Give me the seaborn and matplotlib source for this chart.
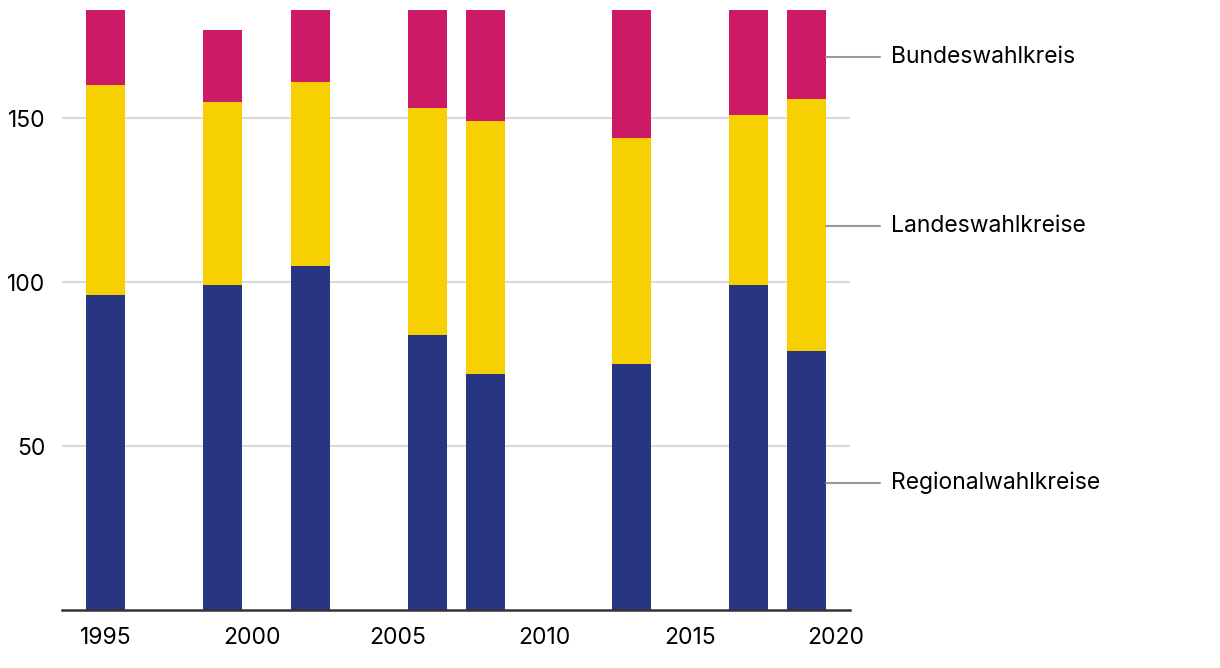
import pandas as pd
import numpy as np
import matplotlib.pyplot as plt
import seaborn as sns

# Nationalratswahlen: Mandate nach Ermittlungsverfahren
years = [1995, 1999, 2002, 2006, 2008, 2013, 2017, 2019]
regional = [96, 99, 105, 84, 72, 75, 99, 79]
landes = [64, 56, 56, 69, 77, 69, 52, 77]
bundes = [23, 22, 22, 30, 34, 39, 32, 27]

labels = ["Regionalwahlkreise", "Landeswahlkreise", "Bundeswahlkreis"]
colors = ["#283583", "#F6D000", "#CC1A66"]

df = pd.DataFrame({"jahr": years, "regional": regional, "landes": landes, "bundes": bundes})
df["top_landes"] = df["regional"] + df["landes"]
df["top_bundes"] = df["top_landes"] + df["bundes"]

sns.set_style("white")
plt.rcParams["font.family"] = ["Inter", "DejaVu Sans"]
plt.rcParams["text.color"] = "black"

fig = plt.figure(figsize=(12.2, 6.68), dpi=100)
ax = fig.add_axes([62 / 1220, 58 / 668, 788 / 1220, 600 / 668])

# stacked bars drawn as overlapping cumulative totals
w = 0.668
for col, c in zip(["top_bundes", "top_landes", "regional"], colors[::-1]):
    sns.barplot(data=df, x="jahr", y=col, native_scale=True, width=w,
                color=c, saturation=1, linewidth=0, ax=ax, zorder=3)

ax.set_xlim(1993.5, 2020.48)
ax.set_ylim(0, 183)
ax.set_xticks([1995, 2000, 2005, 2010, 2015, 2020])
ax.set_yticks([50, 100, 150])
ax.yaxis.grid(True, color="#d9d9d9", linewidth=1.5, zorder=0)
ax.xaxis.grid(False)
ax.tick_params(axis="both", length=0, labelsize=16.5, colors="black")
ax.tick_params(axis="x", pad=12)
ax.tick_params(axis="y", pad=12)
ax.set_xlabel("")
ax.set_ylabel("")
for s in ["top", "right", "left"]:
    ax.spines[s].set_visible(False)
ax.spines["bottom"].set_color("#333333")
ax.spines["bottom"].set_linewidth(1.8)
ax.spines["bottom"].set_zorder(5)

# labels on the last bar
last = df.iloc[-1]
mids = [last["regional"] / 2 - 0.8,
        (last["regional"] + last["top_landes"]) / 2 - 0.3,
        (last["top_landes"] + last["top_bundes"]) / 2 - 0.8]
x_edge = last["jahr"] + w * 2 / 2
for lab, m in zip(labels, mids):
    ax.plot([x_edge, x_edge + 1.85], [m, m], color="#999999", lw=1.5, clip_on=False, zorder=4)
    ax.text(x_edge + 2.2, m, lab, va="center", ha="left", fontsize=16.5,
            color="black", clip_on=False)

fig.savefig("out.png", dpi=100)
